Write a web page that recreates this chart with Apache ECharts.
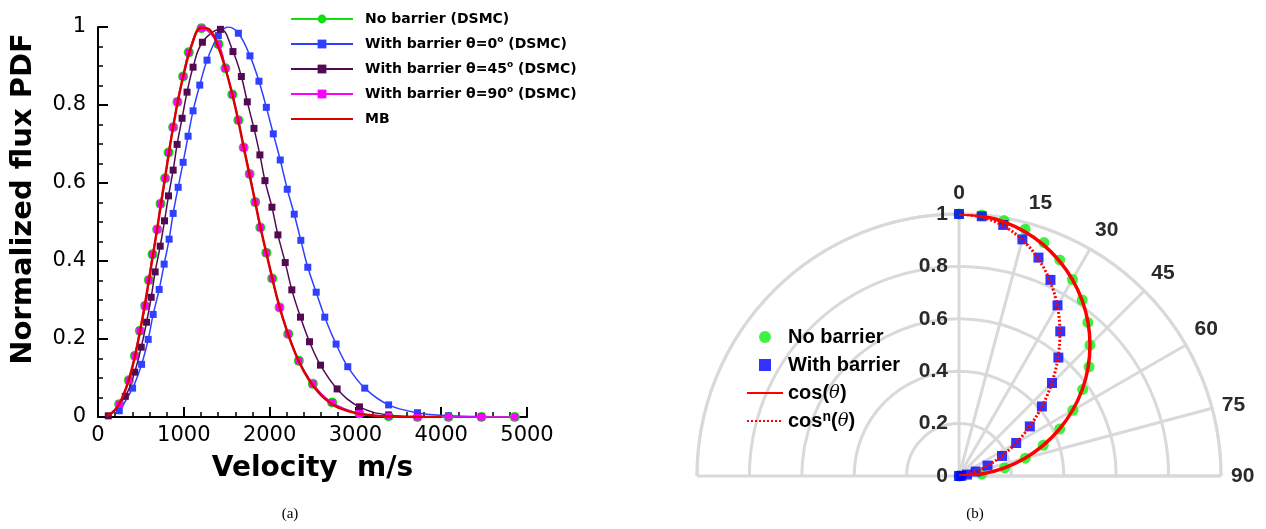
<!DOCTYPE html>
<html><head><meta charset="utf-8">
<script src="https://cdn.jsdelivr.net/npm/echarts@6/dist/echarts.min.js"></script>
<style>html,body{margin:0;padding:0;background:#fff}#c{width:1266px;height:529px}</style>
</head><body><div id="c"></div>
<script>
// ---------- Panel (a): normalized flux PDF vs velocity ----------
const noBarrierPts = [[248,0.033],[360,0.094],[430,0.157],[488,0.221],[550,0.285],[593,0.351],[636,0.417],[690,0.481],[729,0.547],[783,0.612],[822,0.678],[876,0.743],[926,0.808],[992,0.873],[1058,0.935],[1206,0.997],[1403,0.956],[1485,0.894],[1566,0.827],[1636,0.761],[1698,0.691],[1767,0.623],[1833,0.551],[1892,0.486],[1962,0.421],[2031,0.355],[2116,0.281],[2217,0.213],[2341,0.144],[2504,0.085],[2729,0.037],[3047,0.009],[3387,0.002],[3724,0],[4085,0],[4469,0],[4857,0]];
const barrier0Pts = [[248,0.016],[403,0.074],[508,0.135],[585,0.199],[643,0.263],[713,0.327],[771,0.392],[829,0.456],[876,0.522],[934,0.589],[992,0.653],[1050,0.72],[1108,0.785],[1186,0.851],[1271,0.915],[1403,0.978],[1636,0.984],[1771,0.926],[1876,0.861],[1962,0.794],[2043,0.726],[2124,0.659],[2206,0.584],[2287,0.52],[2364,0.453],[2445,0.384],[2543,0.32],[2643,0.256],[2775,0.187],[2911,0.129],[3109,0.074],[3387,0.031],[3724,0.011],[4085,0.003],[4469,0.001]];
const barrier0Peak = [1515,1.0];
const barrier45Pts = [[120,0.003],[318,0.053],[427,0.115],[504,0.179],[566,0.243],[620,0.307],[666,0.372],[725,0.438],[775,0.503],[822,0.567],[876,0.633],[922,0.699],[980,0.766],[1038,0.833],[1108,0.897],[1217,0.961],[1427,0.994],[1573,0.937],[1671,0.873],[1740,0.808],[1818,0.74],[1887,0.672],[1946,0.606],[2027,0.538],[2097,0.467],[2182,0.396],[2259,0.326],[2360,0.256],[2465,0.193],[2593,0.133],[2787,0.072],[3047,0.026],[3387,0.005],[3724,0.001]];
const barrier90Pts = [[248,0.033],[360,0.094],[430,0.157],[488,0.221],[550,0.285],[593,0.351],[636,0.417],[690,0.481],[729,0.547],[783,0.612],[822,0.678],[876,0.743],[926,0.808],[992,0.873],[1058,0.935],[1206,0.997],[1403,0.956],[1485,0.894],[1566,0.827],[1636,0.761],[1698,0.691],[1767,0.623],[1833,0.551],[1892,0.486],[1962,0.421],[2031,0.355],[2116,0.281],[2217,0.213],[2341,0.144],[2504,0.085],[2729,0.037],[3047,0.009],[3387,0.002],[3724,0],[4085,0],[4469,0],[4857,0]];
const mbPts = [[100,0.002],[200,0.018],[300,0.058],[400,0.128],[500,0.232],[600,0.36],[700,0.497],[800,0.64],[900,0.774],[1000,0.88],[1100,0.958],[1200,0.998],[1300,0.993],[1400,0.95],[1500,0.882],[1600,0.795],[1700,0.69],[1800,0.585],[1900,0.48],[2000,0.385],[2100,0.295],[2200,0.222],[2300,0.163],[2400,0.117],[2500,0.082],[2600,0.056],[2700,0.037],[2800,0.024],[3000,0.01],[3200,0.004],[3400,0.001],[3600,0],[4000,0]];
const leftNames = ['No barrier (DSMC)','With barrier θ=0° (DSMC)','With barrier θ=45° (DSMC)','With barrier θ=90° (DSMC)','MB'];
const yTitle = 'Normalized flux PDF';
const xTitle = 'Velocity  m/s';

// ---------- Panel (b): angular distribution ----------
const thetaDeg = [0,5,10,15,20,25,30,35,40,45,50,55,60,65,70,75,80,85,90];
const noBarrierR = [1.0,1.0,0.99,0.975,0.948,0.91,0.866,0.82,0.765,0.707,0.648,0.576,0.502,0.424,0.342,0.262,0.177,0.087,0.0];
const withBarrierR = [1.0,0.995,0.973,0.935,0.887,0.826,0.752,0.674,0.59,0.502,0.413,0.33,0.252,0.181,0.116,0.066,0.031,0.009,0.0];
const cosLineR = [1.0,0.996,0.985,0.966,0.94,0.906,0.866,0.819,0.766,0.707,0.643,0.574,0.5,0.423,0.342,0.259,0.174,0.087,0.0];
const cosnLineR = [1.0,0.992,0.97,0.933,0.883,0.821,0.75,0.671,0.587,0.5,0.413,0.329,0.25,0.179,0.117,0.067,0.03,0.008,0.0];
const rightNames = ['No barrier','With barrier','cos(θ)','cosⁿ(θ)'];

const toPolar = arr => thetaDeg.map((t,i)=>[arr[i], t]);

const chart = echarts.init(document.getElementById('c'), null, {renderer:'canvas'});

const lineSeries = (name, data, color, symbol, size, width, z) => ({
  name, type:'line', xAxisIndex:0, yAxisIndex:0, data, smooth:0.4,
  symbol, symbolSize:size, showSymbol: symbol !== 'none',
  lineStyle:{color, width}, itemStyle:{color}, z, animation:false
});

const blueData = barrier0Pts.slice();
// the continuous curve's read peak (drawn in the line, no marker)
const bIdx = blueData.findIndex(p => p[0] > barrier0Peak[0]);
blueData.splice(bIdx, 0, {value: barrier0Peak, symbol:'none'});

const squareIcon = 'path://M0,0L10,0L10,10L0,10Z';

const option = {
  animation:false,
  backgroundColor:'#fff',
  title:[
    {text:'(a)', left:285, top:502, textAlign:'center', textStyle:{fontFamily:'Liberation Serif', fontWeight:'normal', fontSize:15, color:'#000'}},
    {text:'(b)', left:970, top:502, textAlign:'center', textStyle:{fontFamily:'Liberation Serif', fontWeight:'normal', fontSize:15, color:'#000'}}
  ],
  graphic:[
    {type:'text', x:23, y:199, rotation:Math.PI/2, silent:true,
     style:{text:yTitle, font:'bold 29px "DejaVu Sans"', fill:'#000', align:'center', verticalAlign:'middle', textAlign:'center', textVerticalAlign:'middle'}}
  ],
  grid:{left:98, top:27, width:429, height:390, containLabel:false},
  xAxis:{
    type:'value', min:0, max:5000, interval:1000,
    name:xTitle, nameLocation:'middle', nameGap:38,
    nameTextStyle:{fontFamily:'DejaVu Sans', fontWeight:'bold', fontSize:28, color:'#000'},
    axisLine:{show:true, onZero:false, lineStyle:{color:'#000', width:2}},
    axisTick:{show:true, inside:true, length:10, lineStyle:{color:'#000', width:2}},
    minorTick:{show:true, splitNumber:5, length:5, lineStyle:{color:'#000', width:1.5}},
    axisLabel:{fontFamily:'DejaVu Sans', fontSize:21, color:'#000', margin:8, formatter: v => String(v)},
    splitLine:{show:false}
  },
  yAxis:{
    type:'value', min:0, max:1, interval:0.2,
    axisLine:{show:true, onZero:false, lineStyle:{color:'#000', width:2}},
    axisTick:{show:true, inside:true, length:10, lineStyle:{color:'#000', width:2}},
    minorTick:{show:true, splitNumber:4, length:5, lineStyle:{color:'#000', width:1.5}},
    axisLabel:{fontFamily:'DejaVu Sans', fontSize:21, color:'#000', margin:12, formatter: v => String(v)},
    splitLine:{show:false}
  },
  polar:[
    {center:[959,476], radius:262},
    {center:[959,476], radius:262}
  ],
  angleAxis:[
    {polarIndex:0, type:'value', min:-90, max:90, interval:180, startAngle:180, endAngle:0, clockwise:true,
     axisLine:{show:true, lineStyle:{color:'#d9d9d9', width:3}},
     axisTick:{show:false}, axisLabel:{show:false},
     splitLine:{show:true, lineStyle:{color:'#d9d9d9', width:3}}},
    {polarIndex:1, type:'value', min:0, max:90, interval:15, startAngle:90, endAngle:0, clockwise:true,
     axisLine:{show:false}, axisTick:{show:false},
     axisLabel:{show:true, margin:10, fontFamily:'Liberation Sans', fontWeight:'bold', fontSize:21, color:'#2a2a2a',
       formatter: v => v === 15 ? '{p|15}' : String(v),
       rich:{p:{fontFamily:'Liberation Sans', fontWeight:'bold', fontSize:21, color:'#2a2a2a', padding:[0,0,0,22]}}},
     splitLine:{show:true, lineStyle:{color:'#d9d9d9', width:3}}}
  ],
  radiusAxis:[
    {polarIndex:0, type:'value', min:0, max:1, interval:0.2,
     axisLine:{show:false}, axisTick:{show:false}, axisLabel:{show:false},
     splitLine:{show:true, lineStyle:{color:'#d9d9d9', width:3}}},
    {polarIndex:1, type:'value', min:0, max:1, interval:0.2,
     axisLine:{show:false}, axisTick:{show:false},
     axisLabel:{show:true, margin:11, fontFamily:'Liberation Sans', fontWeight:'bold', fontSize:21, color:'#2a2a2a'},
     splitLine:{show:false}}
  ],
  legend:[
    {data:[leftNames[0], leftNames[1], leftNames[2], leftNames[3], {name:leftNames[4], itemStyle:{opacity:0}}],
     left:290, top:10, padding:0, orient:'vertical', itemWidth:62, itemHeight:11, itemGap:7,
     selectedMode:false,
     formatter: n => '{g|}' + n.replace('°','{s|o}'),
     textStyle:{fontFamily:'DejaVu Sans', fontWeight:'bold', fontSize:14, color:'#000', lineHeight:18,
       rich:{g:{width:7},
             s:{fontFamily:'DejaVu Sans', fontWeight:'bold', fontSize:9, color:'#000', verticalAlign:'top', lineHeight:18, padding:[0,0,8,0]}}}},
    {data:[rightNames[0], {name:rightNames[1], icon:squareIcon},
           {name:rightNames[2], itemStyle:{opacity:0}}, {name:rightNames[3], itemStyle:{opacity:0}}],
     left:746, top:326, padding:0, orient:'vertical', itemWidth:36, itemHeight:12, itemGap:6,
     selectedMode:false,
     formatter: n => n === 'cos(θ)' ? 'cos({i|θ})' : (n === 'cosⁿ(θ)' ? 'cos{s|n}({i|θ})' : n),
     textStyle:{fontFamily:'Liberation Sans', fontWeight:'bold', fontSize:20, color:'#000', lineHeight:22,
       rich:{i:{fontFamily:'DejaVu Serif', fontStyle:'italic', fontWeight:'normal', fontSize:18, color:'#000'},
             s:{fontFamily:'Liberation Sans', fontWeight:'bold', fontSize:14, color:'#000', verticalAlign:'top', padding:[0,0,10,0]}}}}
  ],
  series:[
    lineSeries(leftNames[0], noBarrierPts, '#12de12', 'circle', 10, 1.5, 2),
    lineSeries(leftNames[1], blueData, '#3040ff', 'rect', 7, 1.5, 3),
    lineSeries(leftNames[2], barrier45Pts, '#520a52', 'rect', 7, 1.5, 4),
    lineSeries(leftNames[3], barrier90Pts, '#ff00ff', 'rect', 7, 1.5, 5),
    lineSeries(leftNames[4], mbPts, '#dd0000', 'none', 0, 2.5, 6),
    {name:rightNames[0], type:'scatter', coordinateSystem:'polar', polarIndex:1, data:toPolar(noBarrierR),
     symbol:'circle', symbolSize:11, itemStyle:{color:'#10ee10'}, z:2},
    {name:rightNames[1], type:'scatter', coordinateSystem:'polar', polarIndex:1, data:toPolar(withBarrierR),
     symbol:'rect', symbolSize:10, itemStyle:{color:'#0000ff'}, z:3},
    {name:rightNames[2], type:'line', coordinateSystem:'polar', polarIndex:1, data:toPolar(cosLineR), smooth:0.4,
     symbol:'none', showSymbol:false, lineStyle:{color:'#ff0000', width:3.5}, itemStyle:{color:'#ff0000'}, z:4},
    {name:rightNames[3], type:'line', coordinateSystem:'polar', polarIndex:1, data:toPolar(cosnLineR), smooth:0.4,
     symbol:'none', showSymbol:false, lineStyle:{color:'#ff0000', width:3, type:[2,2]}, itemStyle:{color:'#ff0000'}, z:5}
  ]
};
chart.setOption(option);
</script></body></html>
